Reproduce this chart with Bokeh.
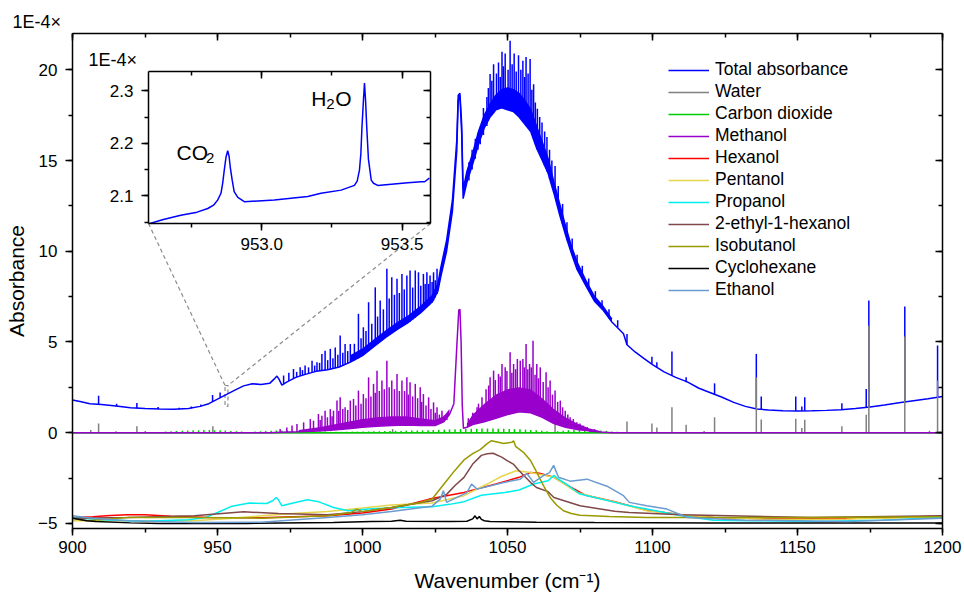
from bokeh.plotting import figure
from bokeh.models import (Range1d, LinearAxis, SingleIntervalTicker, Legend, LegendItem, Label, Title,
                          CustomJSTickFormatter, NumeralTickFormatter)
from bokeh.layouts import column
from bokeh.embed import file_html
from bokeh.resources import INLINE

# ---------------- data (absorbance in 1E-4) ----------------
# Total absorbance: smooth lower trace
total_x = [900, 903, 906, 910, 915, 920, 925, 930, 935, 940, 944, 947, 950, 953, 956, 959, 962, 965, 968,
           969.5, 970.5, 971.2, 972.2, 974, 977, 980, 984, 988, 992, 996, 1000, 1004, 1008, 1012, 1016, 1020,
           1024, 1026, 1027, 1029, 1031, 1032.5, 1033.0, 1033.6, 1034.2, 1034.7, 1036, 1038, 1040, 1042, 1044,
           1046, 1048, 1050, 1052, 1054, 1056, 1058, 1060, 1062, 1064, 1066, 1068, 1070, 1072, 1074, 1077,
           1080, 1083, 1086, 1090, 1091.2, 1094, 1097, 1100, 1104, 1108, 1112, 1116, 1120, 1124, 1128, 1132,
           1136, 1140, 1145, 1150, 1155, 1160, 1165, 1170, 1175, 1180, 1185, 1190, 1195, 1200]
total_y = [1.80, 1.70, 1.60, 1.56, 1.47, 1.37, 1.33, 1.30, 1.29, 1.33, 1.45, 1.60, 1.85, 2.10, 2.35, 2.58,
           2.70, 2.65, 2.72, 2.95, 3.12, 2.95, 2.62, 2.80, 3.05, 3.20, 3.38, 3.47, 3.62, 3.90, 4.25, 4.75,
           5.25, 5.70, 6.10, 6.60, 7.20, 7.80, 8.60, 10.0, 12.2, 15.5, 18.3, 18.5, 16.5, 12.9, 13.8, 14.8,
           15.9, 16.8, 17.4, 17.8, 17.9, 17.8, 17.7, 17.4, 17.0, 16.6, 15.7, 15.0, 14.3, 13.2, 12.0, 10.9,
           9.9, 9.0, 8.1, 7.25, 6.75, 6.10, 5.45, 4.85, 4.45, 4.10, 3.75, 3.35, 3.05, 2.80, 2.45, 2.20,
           1.95, 1.67, 1.45, 1.31, 1.25, 1.21, 1.20, 1.21, 1.23, 1.27, 1.33, 1.41, 1.52, 1.65, 1.76, 1.87, 1.99]
# Total absorbance: densely packed rotational lines (lower / upper edge of the solid band)
total_band_x = [996, 1000, 1004, 1008, 1012, 1016, 1020, 1024, 1026, 1027, 1029, 1031, 1032.5, 1033.0,
                1033.6, 1034.2, 1034.7, 1036, 1038, 1040, 1042, 1044, 1046, 1048, 1050, 1052, 1054, 1056,
                1058, 1060, 1062, 1064, 1066, 1068, 1070, 1072, 1074, 1077, 1080, 1083, 1086]
total_band_lo = [3.90, 4.25, 4.75, 5.25, 5.70, 6.10, 6.60, 7.20, 7.80, 8.60, 10.0, 12.2, 15.5, 18.3, 18.5,
                 16.5, 12.9, 13.8, 14.8, 15.9, 16.8, 17.4, 17.8, 17.9, 17.8, 17.7, 17.4, 17.0, 16.6, 15.7,
                 15.0, 14.3, 13.2, 12.0, 10.9, 9.9, 9.0, 8.1, 7.25, 6.75, 6.10]
total_band_hi = [4.25, 4.6, 5.1, 5.6, 6.05, 6.45, 6.95, 7.55, 8.2, 9.1, 10.6, 12.8, 16.1, 18.6, 18.7, 17.0,
                 13.4, 14.4, 15.4, 16.6, 17.5, 18.1, 18.6, 18.9, 19.0, 18.9, 18.7, 18.3, 17.8, 16.9, 16.0,
                 15.1, 13.8, 12.6, 11.4, 10.3, 9.4, 8.4, 7.5, 6.95, 6.25]
# Total absorbance: individual sharp lines (position, foot, tip)
total_spike_x = [909.0, 915.2, 922.2, 929.5, 936.8, 941.0, 944.3, 948.3, 950.9, 972.8, 974.6, 976.2, 978.5,
                 980.2, 982.6, 984.3, 986.0, 987.1, 988.9, 990.6, 992.3, 994.0, 995.8, 998.6, 1000.3, 1002.1,
                 1004.4, 1006.1, 1008.4, 1010.1, 1011.9, 1013.6, 1015.3, 1016.4, 1018.2, 1019.3, 1021.0,
                 1022.2, 1023.3, 1024.5, 1025.7, 1040.6, 1041.7, 1042.9, 1044.0, 1045.2, 1046.9, 1048.1,
                 1049.2, 1050.9, 1052.3, 1053.8, 1055.3, 1056.4, 1057.8, 1059.0, 1060.3, 1061.9, 1063.6,
                 1065.3, 1066.4, 1091.2, 1099.8, 1101.5, 1106.7, 1111.6, 1121.4, 1135.8, 1137.5, 1149.4,
                 1151.5, 1152.5, 1165.3, 1173.7, 1174.6, 1187.0, 1198.3]
total_spike_base = [1.57, 1.46, 1.35, 1.30, 1.29, 1.35, 1.46, 1.70, 1.92, 2.68, 2.85, 2.98, 3.12, 3.20, 3.32,
                    3.38, 3.42, 3.44, 3.48, 3.55, 3.63, 3.75, 3.88, 4.10, 4.28, 4.50, 4.80, 5.02, 5.30, 5.48,
                    5.68, 5.85, 6.02, 6.12, 6.35, 6.50, 6.75, 6.92, 7.08, 7.28, 7.65, 15.9, 16.4, 16.9, 17.4,
                    17.6, 17.85, 17.9, 17.9, 17.8, 17.7, 17.45, 17.2, 17.0, 16.7, 16.2, 15.6, 15.1, 14.4,
                    13.6, 13.0, 4.85, 3.80, 3.62, 3.15, 2.78, 2.12, 1.31, 1.29, 1.20, 1.20, 1.21, 1.27, 1.40,
                    1.41, 1.70, 1.95]
total_spike_top = [2.04, 1.60, 1.64, 1.42, 1.38, 1.45, 1.55, 2.08, 2.22, 3.15, 3.30, 3.51, 3.60, 3.70, 3.97,
                   3.88, 4.34, 4.52, 4.62, 4.70, 5.35, 4.89, 4.89, 6.55, 5.81, 7.19, 8.01, 7.28, 9.03, 8.57,
                   8.48, 8.75, 8.66, 8.94, 8.94, 8.84, 8.75, 8.84, 8.66, 8.84, 9.03, 16.7, 17.9, 18.5, 19.77,
                   20.3, 20.4, 21.0, 20.9, 21.6, 20.9, 20.8, 20.5, 20.7, 20.6, 19.2, 17.85, 17.1, 16.3, 15.0,
                   14.7, 5.44, 4.19, 3.88, 4.47, 3.05, 2.72, 4.34, 1.99, 1.99, 1.45, 1.95, 1.62, 2.41, 7.28,
                   6.95, 4.80]
# Total absorbance: weaker lines in between the strong ones
total_minor_x = [977.3, 979.3, 981.4, 983.5, 985.2, 988.0, 989.8, 991.5, 993.2, 994.9, 997.2, 999.5, 1001.2,
                 1003.2, 1005.2, 1007.2, 1009.2, 1011.0, 1012.7, 1014.4, 1017.3, 1020.1, 1021.6, 1022.8,
                 1024.0, 1025.1,
                 1036.7, 1037.8, 1038.9, 1039.8, 1043.4, 1044.6, 1046.2, 1047.5, 1048.6, 1050.2, 1051.6,
                 1053.0, 1054.6, 1055.9, 1057.1, 1058.4, 1059.6, 1061.1, 1062.8, 1064.5,
                 1067.5, 1069.0, 1070.5, 1072.3, 1074.0, 1075.8, 1078.0, 1080.3, 1082.6, 1085.0, 1088.0]
total_minor_base = [3.05, 3.16, 3.26, 3.35, 3.40, 3.46, 3.52, 3.59, 3.69, 3.80, 3.98, 4.19, 4.39, 4.65, 4.91,
                    5.15, 5.39, 5.58, 5.77, 5.93, 6.23, 6.62, 6.83, 7.00, 7.18, 7.45,
                    13.9, 14.5, 15.1, 15.6, 17.2, 17.5, 17.8, 17.9, 17.9, 17.85, 17.75, 17.6, 17.3, 17.1,
                    16.85, 16.5, 15.9, 15.35, 14.7, 14.0,
                    12.6, 11.5, 10.6, 9.8, 9.0, 8.5, 7.8, 7.2, 6.8, 6.3, 5.8]
total_minor_top = [3.35, 3.45, 3.60, 3.70, 3.85, 4.00, 4.10, 4.30, 4.40, 4.50, 4.90, 5.20, 5.60, 6.00, 6.40,
                   6.80, 7.40, 7.60, 7.70, 7.90, 8.00, 8.10, 8.20, 8.20, 8.30, 8.40,
                   14.9, 15.6, 16.2, 16.5, 19.0, 19.4, 19.8, 19.6, 20.2, 20.0, 20.3, 19.9, 20.0, 19.6, 19.8,
                   18.9, 18.2, 17.4, 16.6, 15.6,
                   13.6, 12.6, 11.6, 10.7, 9.8, 9.2, 8.5, 7.8, 7.3, 6.8, 6.2]

# Water lines
water_base_x = [900, 1200]
water_base_y = [0.0, 0.0]
water_x = [906.3, 909.0, 915.0, 922.2, 925.1, 936.0, 948.4, 1010.4, 1066.4, 1091.2, 1099.8, 1101.5, 1106.7,
           1111.6, 1117.8, 1121.4, 1135.8, 1137.5, 1149.4, 1151.5, 1152.5, 1165.3, 1173.7, 1174.6, 1187.0,
           1195.5, 1198.3]
water_top = [0.15, 0.51, 0.08, 0.35, 0.10, 0.06, 0.35, 0.20, 0.48, 0.62, 0.51, 0.29, 1.40, 0.44, 0.10, 0.85,
             3.05, 0.73, 0.77, 0.26, 0.72, 0.35, 0.99, 5.90, 5.30, 0.11, 2.87]

# Carbon dioxide lines
co2_base_x = [900, 1200]
co2_base_y = [0.0, 0.0]
co2_x = [932.1, 934.0, 935.8, 937.9, 939.7, 941.6, 943.5, 945.3, 947.2, 949.0, 950.9, 952.7, 954.6, 956.5,
         958.3, 962.9, 964.8, 966.6, 968.5, 970.3, 972.2, 974.1, 975.9, 977.8, 979.7, 981.5, 983.4, 985.3,
         987.1, 989.0, 990.9, 992.7, 994.6, 996.5, 998.3, 1000.2, 1002.1, 1003.9, 1005.8, 1007.7, 1009.5,
         1011.4, 1013.3, 1015.1, 1017.0, 1018.9, 1020.7, 1022.6, 1024.4, 1026.3, 1028.2, 1030.0, 1031.9,
         1033.8, 1035.6, 1037.5, 1039.4, 1041.2, 1043.1, 1045.0, 1046.8, 1048.7, 1050.6, 1052.4, 1054.3,
         1056.2, 1058.0, 1059.9, 1061.8, 1063.6, 1067.3, 1069.2, 1071.0, 1072.9, 1074.8, 1076.6, 1078.5,
         1080.4, 1082.2, 1084.1, 1086.0, 1087.8]
co2_top = [0.06, 0.08, 0.09, 0.11, 0.12, 0.13, 0.14, 0.15, 0.15, 0.14,
           0.13, 0.12, 0.10, 0.08, 0.06,
           0.06, 0.08, 0.10, 0.11, 0.12, 0.12, 0.12, 0.11, 0.10, 0.09,
           0.08, 0.07, 0.06, 0.06, 0.05, 0.05, 0.05, 0.05, 0.06, 0.06,
           0.07, 0.07, 0.08, 0.08, 0.09, 0.09, 0.10, 0.10, 0.11, 0.12,
           0.12, 0.13, 0.14, 0.15, 0.16, 0.17, 0.18, 0.19, 0.20, 0.21,
           0.22, 0.22, 0.23, 0.23, 0.23, 0.22, 0.22, 0.21, 0.20, 0.19,
           0.17, 0.15, 0.13, 0.11, 0.08,
           0.08, 0.11, 0.14, 0.16, 0.17, 0.17, 0.16, 0.14, 0.12, 0.10, 0.07, 0.05]

# Methanol
meth_x = [900, 968, 972, 978, 985, 990, 995, 1000, 1005, 1010, 1015, 1020, 1025, 1028, 1030, 1031.5, 1032.5,
          1033.2, 1033.6, 1034.0, 1034.4, 1034.8, 1036, 1038, 1042, 1046, 1050, 1054, 1058, 1062, 1066, 1070,
          1074, 1078, 1082, 1086, 1200]
meth_y = [0, 0, 0.03, 0.05, 0.10, 0.15, 0.22, 0.30, 0.35, 0.40, 0.42, 0.40, 0.40, 0.60, 1.00, 1.60, 4.70,
          6.75, 6.80, 5.00, 1.50, 0.25, 0.30, 0.45, 0.60, 0.80, 1.00, 1.15, 1.10, 0.85, 0.50, 0.30, 0.18,
          0.10, 0.04, 0.0, 0.0]
meth_p_x = [978, 985, 990, 995, 1000, 1005, 1010, 1015, 1020, 1025, 1028, 1030]
meth_p_lo = [0.05, 0.10, 0.15, 0.22, 0.30, 0.35, 0.40, 0.42, 0.40, 0.40, 0.60, 1.00]
meth_p_hi = [0.15, 0.30, 0.45, 0.60, 0.75, 0.85, 0.90, 0.90, 0.80, 0.70, 0.90, 1.30]
meth_r_x = [1036, 1038, 1042, 1046, 1050, 1054, 1058, 1062, 1066, 1070, 1074, 1078, 1082]
meth_r_lo = [0.30, 0.45, 0.60, 0.80, 1.00, 1.15, 1.10, 0.85, 0.50, 0.30, 0.18, 0.10, 0.04]
meth_r_hi = [0.50, 1.00, 1.60, 2.10, 2.40, 2.50, 2.40, 1.90, 1.30, 0.85, 0.50, 0.25, 0.10]
meth_spike_x = [971.6, 973.9, 975.7, 977.4, 979.7, 982.0, 983.1, 984.8, 986.0, 987.1, 988.9, 990.0, 991.2,
                992.3, 994.0, 995.8, 996.9, 998.6, 1000.3, 1002.1, 1003.8, 1005.0, 1006.7, 1008.4, 1010.1,
                1011.9, 1013.6, 1015.3, 1016.4, 1018.2, 1019.9, 1021.0, 1022.8, 1024.5, 1025.7, 1027.4,
                1029.1, 1036.5, 1038.0, 1039.5, 1041.2, 1044.0, 1045.2, 1046.9, 1048.1, 1049.2, 1050.9,
                1052.1, 1053.4, 1054.4, 1055.3, 1056.4, 1057.6, 1058.8, 1060.1, 1061.3, 1063.3, 1064.7,
                1066.4, 1068.2, 1069.9, 1071.6, 1073.9, 1076.2]
meth_spike_base = [0.0, 0.02, 0.03, 0.04, 0.06, 0.08, 0.09, 0.11, 0.12, 0.13, 0.14, 0.15, 0.17, 0.18, 0.20,
                   0.22, 0.24, 0.27, 0.30, 0.32, 0.34, 0.35, 0.37, 0.39, 0.40, 0.41, 0.42, 0.42, 0.42, 0.41,
                   0.40, 0.40, 0.40, 0.40, 0.45, 0.55, 0.70, 0.33, 0.45, 0.52, 0.56, 0.70, 0.76, 0.84, 0.90,
                   0.96, 1.04, 1.08, 1.12, 1.15, 1.14, 1.13, 1.12, 1.10, 1.00, 0.94, 0.84, 0.70, 0.52, 0.40,
                   0.32, 0.27, 0.20, 0.14]
meth_spike_top = [0.20, 0.29, 0.39, 0.48, 0.57, 0.75, 0.66, 1.03, 0.94, 1.21, 1.30, 1.21, 1.77, 1.95, 1.40,
                  1.77, 1.86, 2.32, 2.13, 3.05, 2.69, 3.42, 2.87, 3.97, 2.87, 3.24, 2.87, 3.05, 2.78, 2.69,
                  2.50, 2.13, 1.95, 1.67, 1.40, 1.21, 1.03, 0.80, 1.10, 1.40, 1.95, 3.05, 3.42, 3.24, 3.79,
                  3.60, 4.43, 3.79, 4.06, 3.97, 4.06, 4.89, 3.79, 5.07, 3.79, 3.60, 3.33, 2.87, 2.32, 1.77,
                  1.21, 0.85, 0.57, 0.39]
# Methanol: weaker lines in between
meth_minor_x = [985.4, 987.9, 989.5, 991.8, 993.2, 994.9, 997.7, 999.5, 1001.2, 1002.9, 1004.4, 1005.8,
                1007.5, 1009.2, 1011.0, 1012.7, 1014.5, 1015.8, 1017.3, 1019.0, 1020.4, 1021.9, 1023.6,
                1025.1, 1026.5, 1028.2,
                1040.0, 1042.6, 1043.5, 1045.8, 1047.5, 1049.8, 1051.5, 1052.8, 1055.8, 1057.0, 1058.2,
                1059.5, 1060.7, 1062.3, 1064.0, 1065.5, 1067.3, 1069.0, 1070.8, 1072.7, 1075.0, 1077.5, 1080.0]
meth_minor_base = [0.115, 0.135, 0.145, 0.175, 0.19, 0.21, 0.25, 0.28, 0.31, 0.33, 0.345, 0.36, 0.38, 0.395,
                   0.405, 0.415, 0.42, 0.42, 0.42, 0.41, 0.40, 0.40, 0.40, 0.42, 0.50, 0.60,
                   0.55, 0.62, 0.66, 0.78, 0.87, 1.00, 1.06, 1.10, 1.14, 1.12, 1.11, 1.05, 0.97, 0.88,
                   0.77, 0.60, 0.46, 0.36, 0.29, 0.23, 0.17, 0.11, 0.07]
meth_minor_top = [0.70, 0.85, 0.90, 1.20, 1.30, 1.25, 1.50, 1.60, 1.90, 2.00, 2.20, 2.30, 2.40, 2.50, 2.40,
                  2.30, 2.30, 2.10, 2.00, 1.90, 1.70, 1.50, 1.30, 1.10, 1.00, 0.95,
                  1.60, 2.40, 2.60, 2.90, 3.10, 3.40, 3.30, 3.50, 3.60, 3.50, 3.60, 3.20, 3.00, 2.80,
                  2.50, 2.10, 1.70, 1.40, 1.00, 0.75, 0.50, 0.32, 0.20]

# Offset reference spectra of the other compounds
hex_x = [900, 907, 913, 919, 925, 934, 947, 965, 988, 1000, 1010, 1023, 1035, 1046, 1054, 1058, 1061, 1066,
         1072, 1077, 1087, 1098, 1110, 1121, 1144, 1167, 1185, 1200]
hex_y = [-4.67, -4.63, -4.56, -4.52, -4.52, -4.60, -4.67, -4.69, -4.58, -4.42, -4.21, -3.66, -3.29, -2.83,
         -2.46, -2.19, -2.24, -2.46, -3.02, -3.45, -3.80, -4.28, -4.52, -4.67, -4.76, -4.73, -4.66, -4.60]
pen_x = [900, 920, 942, 955, 965, 976, 988, 1000, 1010, 1024, 1035, 1043, 1048, 1053, 1058, 1066, 1074, 1080,
         1087, 1098, 1110, 1121, 1144, 1167, 1200]
pen_y = [-4.85, -4.85, -4.85, -4.72, -4.58, -4.45, -4.34, -4.15, -3.99, -3.88, -3.47, -2.83, -2.40, -2.10,
         -2.19, -2.46, -3.29, -3.55, -3.82, -4.30, -4.52, -4.67, -4.78, -4.76, -4.65]
pro_x = [900, 910, 925, 940, 946, 950, 955, 961, 967, 969, 970.2, 971, 972.2, 975, 981, 985, 990, 995, 1002,
         1013, 1024, 1030, 1035, 1041, 1049, 1054, 1059, 1064, 1066, 1067.5, 1071, 1075, 1087, 1092, 1098,
         1110, 1121, 1133, 1156, 1179, 1200]
pro_y = [-4.67, -4.80, -4.88, -4.80, -4.67, -4.40, -4.05, -3.88, -3.90, -3.75, -3.57, -3.70, -4.03, -3.92,
         -3.70, -3.81, -4.12, -4.30, -4.21, -4.12, -4.08, -3.95, -3.80, -3.45, -3.30, -3.16, -2.83, -2.65,
         -2.35, -2.55, -2.92, -3.38, -3.84, -4.03, -4.21, -4.58, -4.82, -4.85, -4.89, -4.82, -4.67]
eh_x = [900, 919, 942, 959, 971, 988, 1000, 1010, 1024, 1029, 1032, 1035, 1038, 1041, 1043, 1045, 1048, 1050,
        1052, 1054, 1058, 1060, 1064, 1066, 1075, 1087, 1092, 1110, 1155, 1200]
eh_y = [-4.71, -4.67, -4.58, -4.36, -4.45, -4.52, -4.35, -4.12, -3.75, -3.40, -2.90, -2.46, -1.73, -1.25,
        -1.16, -1.13, -1.35, -1.55, -1.73, -2.10, -2.75, -3.02, -3.25, -3.57, -4.03, -4.33, -4.40, -4.52,
        -4.67, -4.58]
iso_x = [900, 905, 919, 942, 965, 988, 996, 998, 1000, 1010, 1020, 1024, 1029, 1032, 1035, 1038, 1040.6, 1043,
         1044.5, 1048.7, 1051.5, 1052.1, 1052.8, 1055.5, 1058, 1060.1, 1062.5, 1064.7, 1067, 1069.3, 1072,
         1075, 1085, 1098, 1150, 1200]
iso_y = [-4.71, -4.85, -4.67, -4.67, -4.71, -4.58, -4.40, -4.21, -4.35, -4.12, -3.85, -3.65, -2.65, -2.05,
         -1.50, -1.15, -0.93, -0.60, -0.44, -0.59, -0.53, -0.45, -0.75, -1.08, -1.55, -2.19, -2.95, -3.57,
         -4.00, -4.30, -4.45, -4.55, -4.62, -4.67, -4.68, -4.63]
cyc_x = [900, 905, 908, 920, 930, 960, 990, 1003, 1010, 1013, 1015, 1030, 1036, 1038, 1038.8, 1039.5, 1040.3,
         1041, 1042, 1044, 1060, 1080, 1120, 1160, 1200]
cyc_y = [-4.71, -4.85, -4.90, -4.97, -5.00, -5.00, -4.95, -4.89, -4.88, -4.82, -4.88, -4.90, -4.88, -4.75,
         -4.58, -4.75, -4.62, -4.78, -4.85, -4.90, -4.93, -4.95, -4.97, -4.98, -4.98]
etoh_x = [900, 907, 919, 942, 965, 988, 1000, 1010, 1024, 1026.8, 1027.9, 1029, 1036, 1037.6, 1039.5, 1048.7,
          1054.4, 1056.7, 1059, 1062.4, 1064.5, 1065.9, 1067.6, 1071.6, 1077.4, 1084.3, 1090, 1092, 1098,
          1105, 1112, 1132, 1167, 1200]
etoh_y = [-4.58, -4.71, -4.85, -4.95, -4.93, -4.67, -4.52, -4.34, -4.05, -3.66, -3.20, -3.84, -3.30, -2.83,
          -3.11, -2.74, -2.56, -2.25, -2.74, -2.37, -2.20, -1.80, -2.46, -2.67, -2.56, -2.95, -3.47, -3.84,
          -4.03, -4.21, -4.67, -4.82, -4.89, -4.71]

# Inset: zoom on 952.6 - 953.6 cm-1
ins_x = [952.599, 952.650, 952.712, 952.770, 952.808, 952.830, 952.843, 952.855, 952.861, 952.867, 952.873,
         952.879, 952.884, 952.888, 952.895, 952.902, 952.915, 952.938, 953.045, 953.164, 953.211, 953.283,
         953.330, 953.340, 953.348, 953.353, 953.357, 953.362, 953.366, 953.370, 953.374, 953.380, 953.390,
         953.398, 953.413, 953.520, 953.568, 953.580, 953.597]
ins_y = [2.047, 2.055, 2.063, 2.069, 2.076, 2.083, 2.092, 2.105, 2.124, 2.150, 2.174, 2.186, 2.175, 2.155,
         2.130, 2.108, 2.097, 2.089, 2.092, 2.099, 2.105, 2.111, 2.120, 2.128, 2.149, 2.180, 2.231, 2.280,
         2.315, 2.280, 2.231, 2.170, 2.130, 2.124, 2.120, 2.125, 2.127, 2.127, 2.134]

legend_labels = ["Total absorbance", "Water", "Carbon dioxide", "Methanol", "Hexanol", "Pentanol",
                 "Propanol", "2-ethyl-1-hexanol", "Isobutanol", "Cyclohexane", "Ethanol"]

# ---------------- styling ----------------
FONT = "Liberation Sans"
C_TOTAL = "#0000ff"
C_WATER = "#808080"
C_CO2 = "#00cc00"
C_METH = "#9900cc"
C_HEX = "#ff0000"
C_PEN = "#e6d64c"
C_PRO = "#00eeee"
C_EH = "#804848"
C_ISO = "#999900"
C_CYC = "#000000"
C_ETOH = "#6a9bd1"
LW = 1.5

X0, X1 = 900.0, 1200.0
Y0, Y1 = -5.28, 22.0
FIG_W, FIG_H = 964, 596
BL, BR, BT, BB = 72, 22, 33, 68

# inset placement (pixels, relative to the page). Left/right borders equal the main figure's
# because the column layout aligns them.
IBL, IBR, IBT, IBB = BL, BR, 26, 36
INS_FRAME_W, INS_FRAME_H = 282, 152
INS_W, INS_H = IBL + INS_FRAME_W + IBR, IBT + INS_FRAME_H + IBB
INS_LEFT, INS_TOP = 148 - IBL, 45
INS_X0, INS_X1 = 952.597, 953.601
INS_Y0, INS_Y1 = 2.0474, 2.337
ZOOM_BOX_Y = (1.45, 2.60)


def style_axis(ax, inward=False, labels=True, label_standoff=6):
    ax.axis_line_width = 1.5
    ax.axis_line_color = "black"
    ax.major_tick_line_width = 1.5
    ax.minor_tick_line_width = 1.5
    ax.major_tick_line_color = "black"
    ax.minor_tick_line_color = "black"
    if inward:
        ax.major_tick_in, ax.major_tick_out = 7, 0
        ax.minor_tick_in, ax.minor_tick_out = 4, 0
    else:
        ax.major_tick_in, ax.major_tick_out = 0, 7
        ax.minor_tick_in, ax.minor_tick_out = 0, 4
    ax.major_label_text_font = FONT
    ax.major_label_text_font_size = "17px"
    ax.major_label_text_color = "black"
    ax.major_label_standoff = label_standoff
    ax.axis_label_text_font = FONT
    ax.axis_label_text_font_size = "21px"
    ax.axis_label_text_font_style = "normal"
    ax.axis_label_text_color = "black"
    if not labels:
        ax.formatter = CustomJSTickFormatter(code="return ''")
        ax.major_label_text_font_size = "0px"
        ax.major_label_standoff = 0


def unit_title(text):
    return Title(text=text, align="left", offset=-60, standoff=4, text_font=FONT, text_font_size="18px",
                 text_font_style="normal", text_color="black")


p = figure(width=FIG_W, height=FIG_H, x_range=Range1d(X0, X1), y_range=Range1d(Y0, Y1),
           output_backend="svg", toolbar_location=None,
           min_border_left=BL, min_border_right=BR, min_border_top=BT, min_border_bottom=BB)
p.title = unit_title("1E-4\u00d7")
p.xgrid.visible = False
p.ygrid.visible = False
p.outline_line_color = None
p.background_fill_color = "white"
p.border_fill_color = "white"

xt = SingleIntervalTicker(interval=50, num_minor_ticks=2)
yt = SingleIntervalTicker(interval=5, num_minor_ticks=2)
p.xaxis.ticker = xt
p.yaxis.ticker = yt
style_axis(p.xaxis[0], label_standoff=5)
style_axis(p.yaxis[0], label_standoff=8)
p.xaxis.axis_label = "Wavenumber (cm\u207b\u00b9)"
p.yaxis.axis_label = "Absorbance"
p.xaxis.axis_label_standoff = 13
p.yaxis.axis_label_standoff = 7
top_ax = LinearAxis(ticker=xt)
style_axis(top_ax, inward=True, labels=False)
p.add_layout(top_ax, "above")
right_ax = LinearAxis(ticker=yt)
style_axis(right_ax, inward=True, labels=False)
p.add_layout(right_ax, "right")

# --- zoom indicator (dashed), derived from inset placement ---
frame_l, frame_r = BL, FIG_W - BR
frame_t, frame_b = BT, FIG_H - BB


def sx_to_x(sx):
    return X0 + (sx - frame_l) / (frame_r - frame_l) * (X1 - X0)


def sy_to_y(sy):
    return Y1 - (sy - frame_t) / (frame_b - frame_t) * (Y1 - Y0)


ins_frame_l = INS_LEFT + IBL
ins_frame_r = ins_frame_l + INS_FRAME_W
ins_frame_b = INS_TOP + IBT + INS_FRAME_H
p.quad(left=[INS_X0], right=[INS_X1], bottom=[ZOOM_BOX_Y[0]], top=[ZOOM_BOX_Y[1]],
       fill_color=None, line_color="#8c8c8c", line_dash="4 3", line_width=1.2)
p.segment(x0=[sx_to_x(ins_frame_l), sx_to_x(ins_frame_r)], y0=[sy_to_y(ins_frame_b)] * 2,
          x1=[INS_X0, INS_X1], y1=[ZOOM_BOX_Y[1]] * 2,
          line_color="#8c8c8c", line_dash="4 3", line_width=1.2)

# --- total absorbance ---
p.varea(x=total_band_x, y1=total_band_lo, y2=total_band_hi, fill_color=C_TOTAL)
p.line(total_band_x, total_band_hi, line_color=C_TOTAL, line_width=LW)
r_total = p.line(total_x, total_y, line_color=C_TOTAL, line_width=LW)
p.segment(x0=total_spike_x, y0=total_spike_base, x1=total_spike_x, y1=total_spike_top,
          line_color=C_TOTAL, line_width=LW)
p.segment(x0=total_minor_x, y0=total_minor_base, x1=total_minor_x, y1=total_minor_top,
          line_color=C_TOTAL, line_width=LW)

# --- water ---
r_water = p.line(water_base_x, water_base_y, line_color=C_WATER, line_width=LW)
p.segment(x0=water_x, y0=[0.0] * len(water_x), x1=water_x, y1=water_top, line_color=C_WATER, line_width=LW)

# --- carbon dioxide ---
r_co2 = p.line(co2_base_x, co2_base_y, line_color=C_CO2, line_width=LW)
p.segment(x0=co2_x, y0=[0.0] * len(co2_x), x1=co2_x, y1=co2_top, line_color=C_CO2, line_width=LW)

# --- methanol ---
p.varea(x=meth_p_x, y1=meth_p_lo, y2=meth_p_hi, fill_color=C_METH)
p.varea(x=meth_r_x, y1=meth_r_lo, y2=meth_r_hi, fill_color=C_METH)
r_meth = p.line(meth_x, meth_y, line_color=C_METH, line_width=LW)
p.segment(x0=meth_spike_x, y0=meth_spike_base, x1=meth_spike_x, y1=meth_spike_top,
          line_color=C_METH, line_width=LW)
p.segment(x0=meth_minor_x, y0=meth_minor_base, x1=meth_minor_x, y1=meth_minor_top,
          line_color=C_METH, line_width=LW)

# --- other compounds ---
r_hex = p.line(hex_x, hex_y, line_color=C_HEX, line_width=LW)
r_pen = p.line(pen_x, pen_y, line_color=C_PEN, line_width=LW)
r_pro = p.line(pro_x, pro_y, line_color=C_PRO, line_width=LW)
r_eh = p.line(eh_x, eh_y, line_color=C_EH, line_width=LW)
r_iso = p.line(iso_x, iso_y, line_color=C_ISO, line_width=LW)
r_cyc = p.line(cyc_x, cyc_y, line_color=C_CYC, line_width=LW)
r_etoh = p.line(etoh_x, etoh_y, line_color=C_ETOH, line_width=LW)

renderers = [r_total, r_water, r_co2, r_meth, r_hex, r_pen, r_pro, r_eh, r_iso, r_cyc, r_etoh]
legend = Legend(items=[LegendItem(label=l, renderers=[r]) for l, r in zip(legend_labels, renderers)],
                location=(596, 228), padding=0, margin=0, spacing=1,
                glyph_width=41, glyph_height=20, label_height=20, label_standoff=6,
                label_text_font=FONT, label_text_font_size="17.5px", label_text_color="black",
                border_line_color=None, background_fill_alpha=0)
p.add_layout(legend, "center")

# ---------------- inset ----------------
ins = figure(width=INS_W, height=INS_H, x_range=Range1d(INS_X0, INS_X1), y_range=Range1d(INS_Y0, INS_Y1),
             output_backend="svg", toolbar_location=None,
             min_border_left=IBL, min_border_right=IBR, min_border_top=IBT, min_border_bottom=IBB)
ins.title = unit_title("1E-4\u00d7")
ins.xgrid.visible = False
ins.ygrid.visible = False
ins.outline_line_color = None
ins.background_fill_color = "white"
ins.border_fill_alpha = 0
ixt = SingleIntervalTicker(interval=0.5, num_minor_ticks=2)
iyt = SingleIntervalTicker(interval=0.1, num_minor_ticks=2)
ins.xaxis.ticker = ixt
ins.yaxis.ticker = iyt
style_axis(ins.xaxis[0], label_standoff=7)
style_axis(ins.yaxis[0], label_standoff=8)
ins.xaxis.formatter = NumeralTickFormatter(format="0.0")
ins.yaxis.formatter = NumeralTickFormatter(format="0.0")
itop = LinearAxis(ticker=ixt)
style_axis(itop, inward=True, labels=False)
ins.add_layout(itop, "above")
iright = LinearAxis(ticker=iyt)
style_axis(iright, inward=True, labels=False)
ins.add_layout(iright, "right")

ins.line(ins_x, ins_y, line_color=C_TOTAL, line_width=LW)

# CO2 annotation
ins.add_layout(Label(x=952.697, y=2.182, text="CO", text_font=FONT, text_font_size="21px",
                     text_baseline="alphabetic", text_color="black"))
ins.add_layout(Label(x=952.697, y=2.182, x_offset=29.5, y_offset=-5.6, text="2", text_font=FONT,
                     text_font_size="15px", text_baseline="alphabetic", text_color="black"))
# H2O annotation
ins.add_layout(Label(x=953.176, y=2.2855, text="H", text_font=FONT, text_font_size="21px",
                     text_baseline="alphabetic", text_color="black"))
ins.add_layout(Label(x=953.176, y=2.2855, x_offset=15.2, y_offset=-5.7, text="2", text_font=FONT,
                     text_font_size="15px", text_baseline="alphabetic", text_color="black"))
ins.add_layout(Label(x=953.176, y=2.2855, x_offset=24, text="O", text_font=FONT, text_font_size="21px",
                     text_baseline="alphabetic", text_color="black"))

ins.styles = {"position": "absolute", "left": f"{INS_LEFT}px", "top": f"{INS_TOP}px", "z-index": "2"}

layout = column(p, ins)
layout.styles = {"position": "relative"}

open("out.html", "w").write(file_html(layout, INLINE))
